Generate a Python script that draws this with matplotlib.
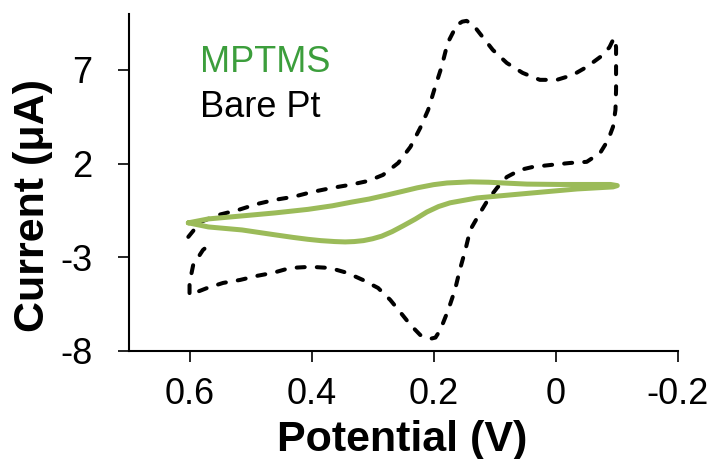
#------------------------------------------------------------------
#-------------------- Imports e dados -----------------------------
#------------------------------------------------------------------
import matplotlib
matplotlib.use('Agg')
from matplotlib import pyplot as plt

plt.rcParams['font.family'] = ['Liberation Sans', 'DejaVu Sans']
plt.rcParams['axes.unicode_minus'] = False

# voltametria ciclica - eletrodo de Pt sem modificacao
bare_pt_x = [0.602, 0.582, 0.553, 0.520, 0.489, 0.460, 0.430, 0.399, 0.366, 0.337,
             0.307, 0.283, 0.258, 0.238, 0.222, 0.209, 0.198, 0.187, 0.177, 0.162,
             0.153, 0.146, 0.135, 0.125, 0.103, 0.080, 0.054, 0.026, -0.002, -0.028,
             -0.051, -0.073, -0.088, -0.094, -0.097, -0.099, -0.099, -0.099, -0.098, -0.094,
             -0.086, -0.073, -0.051, -0.024, 0.006, 0.037, 0.058, 0.080, 0.096, 0.111,
             0.124, 0.140, 0.148, 0.157, 0.165, 0.176, 0.189, 0.197, 0.206, 0.222,
             0.238, 0.255, 0.271, 0.291, 0.316, 0.342, 0.370, 0.402, 0.435, 0.463,
             0.489, 0.517, 0.545, 0.571, 0.600, 0.600, 0.594, 0.578, 0.564]
bare_pt_y = [-1.92, -1.12, -0.75, -0.48, -0.16, 0.06, 0.22, 0.48, 0.70, 0.86,
             1.07, 1.39, 2.03, 2.89, 3.90, 4.86, 6.04, 7.16, 8.44, 9.40,
             9.58, 9.62, 9.40, 8.98, 8.07, 7.37, 6.84, 6.47, 6.47, 6.73,
             7.16, 7.69, 8.20, 8.60, 8.70, 8.20, 7.16, 5.93, 4.86, 3.96,
             3.26, 2.57, 2.09, 2.03, 1.93, 1.82, 1.66, 1.28, 0.70, 0.06,
             -0.64, -1.55, -2.62, -3.68, -4.75, -5.82, -6.89, -7.30, -7.37, -7.16,
             -6.62, -5.93, -5.29, -4.65, -4.22, -3.84, -3.58, -3.52, -3.58, -3.84,
             -4.00, -4.22, -4.38, -4.65, -5.02, -4.38, -3.42, -2.62, -2.24]

# eletrodo modificado com MPTMS
mptms_x = [0.602, 0.569, 0.514, 0.460, 0.406, 0.366, 0.334, 0.306, 0.276, 0.250,
           0.227, 0.200, 0.178, 0.140, 0.110, 0.080, 0.047, -0.007, -0.061, -0.090,
           -0.101, -0.094, -0.035, 0.020, 0.075, 0.129, 0.173, 0.192, 0.211, 0.230,
           0.250, 0.268, 0.285, 0.300, 0.315, 0.330, 0.345, 0.362, 0.385, 0.406,
           0.430, 0.460, 0.514, 0.569, 0.602]
mptms_y = [-1.17, -0.96, -0.80, -0.64, -0.45, -0.26, -0.06, 0.10, 0.32, 0.52,
           0.70, 0.87, 0.96, 1.02, 1.00, 0.95, 0.90, 0.88, 0.88, 0.88,
           0.82, 0.75, 0.64, 0.48, 0.32, 0.16, -0.10, -0.30, -0.59, -0.97,
           -1.33, -1.64, -1.88, -2.02, -2.12, -2.17, -2.19, -2.17, -2.12, -2.05,
           -1.95, -1.81, -1.55, -1.39, -1.17]

xticks = [0.6, 0.4, 0.2, 0, -0.2]
xticklabels = ['0.6', '0.4', '0.2', '0', '-0.2']
yticks = [-8, -3, 2, 7]
yticklabels = ['-8', '-3', '2', '7']

#------------------------------------------------------------------
#-------------------- Grafico -------------------------------------
#------------------------------------------------------------------
fig = plt.figure(figsize=(7.16, 4.59), dpi=100)
ax = fig.add_axes([0.1795, 0.236, 0.767, 0.734])

ax.plot(bare_pt_x, bare_pt_y, color='black', lw=2.9,
        ls=(0, (2.0, 3.0)), dash_capstyle='round', dash_joinstyle='round')
ax.plot(mptms_x, mptms_y, color='#9bbb59', lw=3.6,
        solid_capstyle='round', solid_joinstyle='round')

ax.set_xlim(0.7, -0.2)
ax.set_ylim(-8, 10)
ax.set_xticks(xticks)
ax.set_xticklabels(xticklabels)
ax.set_yticks(yticks)
ax.set_yticklabels(yticklabels)

for lado in ['top', 'right']:
    ax.spines[lado].set_visible(False)
for lado in ['left', 'bottom']:
    ax.spines[lado].set_linewidth(1.5)

ax.tick_params(axis='x', direction='out', length=8, width=1.2, labelsize=26, pad=11)
ax.tick_params(axis='y', direction='out', length=8, width=1.2, labelsize=26, pad=18)

fig.text(402 / 716, 1 - 451 / 459, 'Potential (V)', fontsize=31, fontweight='bold',
         ha='center', va='baseline')
fig.text(33 / 716, 1 - 206 / 459, 'Current (μA)', fontsize=31, fontweight='bold',
         ha='center', va='center', rotation=90)

fig.text(200 / 716, 1 - 72 / 459, 'MPTMS', fontsize=26, color='#3c9e3c', va='baseline')
fig.text(200 / 716, 1 - 117 / 459, 'Bare Pt', fontsize=26, color='black', va='baseline')

fig.savefig('out.png', dpi=100)
